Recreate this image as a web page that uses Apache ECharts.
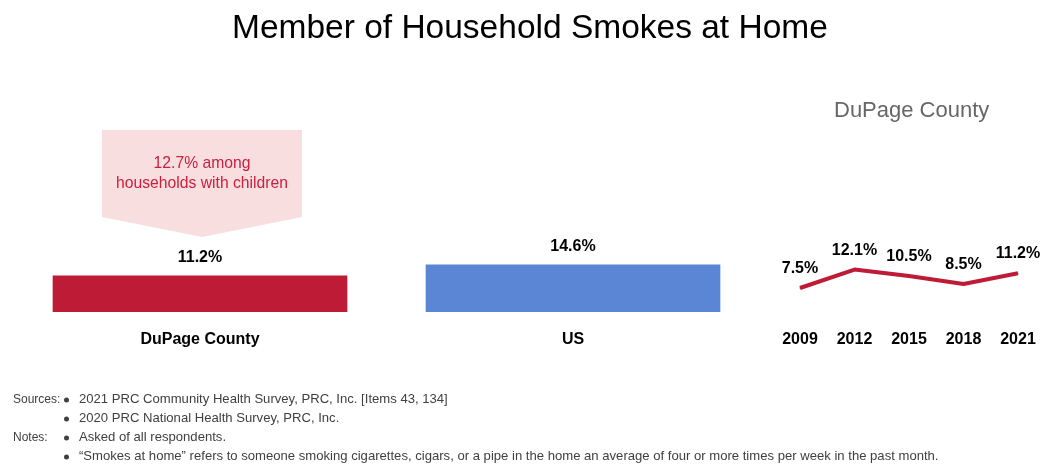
<!DOCTYPE html>
<html>
<head>
<meta charset="utf-8">
<script src="https://cdn.jsdelivr.net/npm/echarts@6/dist/echarts.min.js"></script>
<style>
  html, body { margin: 0; padding: 0; background: #fff; }
  #chart { width: 1042px; height: 464px; }
</style>
</head>
<body>
<div id="chart"></div>
<script>
// data
const barCategories = ['DuPage County', 'US'];
const barValues = [11.2, 14.6];
const barColors = ['#BE1B37', '#5B86D6'];
const trendYears = ['2009', '2012', '2015', '2018', '2021'];
const trendValues = [7.5, 12.1, 10.5, 8.5, 11.2];
const calloutText = '12.7% among\nhouseholds with children';
const footLines = [
  ['Sources:', '2021 PRC Community Health Survey, PRC, Inc. [Items 43, 134]'],
  ['', '2020 PRC National Health Survey, PRC, Inc.'],
  ['Notes:', 'Asked of all respondents.'],
  ['', '\u201cSmokes at home\u201d refers to someone smoking cigarettes, cigars, or a pipe in the home an average of four or more times per week in the past month.']
];

const font = 'Liberation Sans, Arial, sans-serif';

let myChart = echarts.init(document.getElementById('chart'));

// footnotes
let footGraphics = [];
const footY = [400, 419, 438, 457];
footLines.forEach((row, i) => {
  if (row[0]) {
    footGraphics.push({ type: 'text', left: 13, top: footY[i] - 6,
      style: { text: row[0], font: '12px ' + font, fill: '#404040' } });
  }
  footGraphics.push({ type: 'circle', shape: { cx: 66.5, cy: footY[i], r: 2.5 },
    style: { fill: '#404040' } });
  footGraphics.push({ type: 'text', left: 79, top: footY[i] - 7,
    style: { text: row[1], font: '13.1px ' + font, fill: '#404040' } });
});

let option = {
  animation: false,
  title: [
    {
      text: 'Member of Household Smokes at Home',
      left: 227, top: 7,
      textStyle: { fontFamily: font, fontSize: 33.5, fontWeight: 'normal', color: '#000' }
    },
    {
      text: 'DuPage County',
      left: 829, top: 95,
      textStyle: { fontFamily: font, fontSize: 22, fontWeight: 'normal', color: '#666' }
    }
  ],
  grid: [
    { left: 13.5, right: 282.5, top: 214.5, bottom: 152 },
    { left: 800, right: 24, top: 238, bottom: 146 }
  ],
  xAxis: [
    {
      type: 'category', gridIndex: 0, data: barCategories,
      axisLine: { show: false }, axisTick: { show: false },
      axisLabel: { margin: 20, fontFamily: font, fontSize: 16, fontWeight: 'bold', color: '#000' }
    },
    {
      type: 'category', gridIndex: 1, data: trendYears, boundaryGap: false,
      axisLine: { show: false }, axisTick: { show: false },
      axisLabel: { margin: 14, fontFamily: font, fontSize: 16, fontWeight: 'bold', color: '#000' }
    }
  ],
  yAxis: [
    { type: 'value', gridIndex: 0, min: 0, max: 30, show: false, splitLine: { show: false } },
    { type: 'value', gridIndex: 1, min: 0, max: 20, show: false, splitLine: { show: false } }
  ],
  series: [
    {
      type: 'bar', xAxisIndex: 0, yAxisIndex: 0,
      barWidth: '79%',
      data: barValues.map((v, i) => ({ value: v, itemStyle: { color: barColors[i] } })),
      label: {
        show: true, position: 'top', distance: 10,
        formatter: p => p.value.toFixed(1) + '%',
        fontFamily: font, fontSize: 16, fontWeight: 'bold', color: '#000'
      }
    },
    {
      type: 'line', xAxisIndex: 1, yAxisIndex: 1,
      data: trendValues,
      symbol: 'circle', symbolSize: 1,
      itemStyle: { color: '#BE1B37' },
      lineStyle: { color: '#BE1B37', width: 4 },
      label: {
        show: true, position: 'top', distance: 11,
        formatter: p => p.value.toFixed(1) + '%',
        fontFamily: font, fontSize: 16, fontWeight: 'bold', color: '#000'
      }
    }
  ],
  graphic: [
    {
      type: 'polygon',
      shape: { points: [[102, 130], [302, 130], [302, 217], [202, 237], [102, 217]] },
      style: { fill: '#F9DEE0' }
    },
    {
      type: 'text', x: 202, y: 174,
      style: {
        text: calloutText, font: '15.7px ' + font, fill: '#C8203F',
        align: 'center', verticalAlign: 'middle', lineHeight: 20
      }
    }
  ].concat(footGraphics)
};

option && myChart.setOption(option);
</script>
</body>
</html>
